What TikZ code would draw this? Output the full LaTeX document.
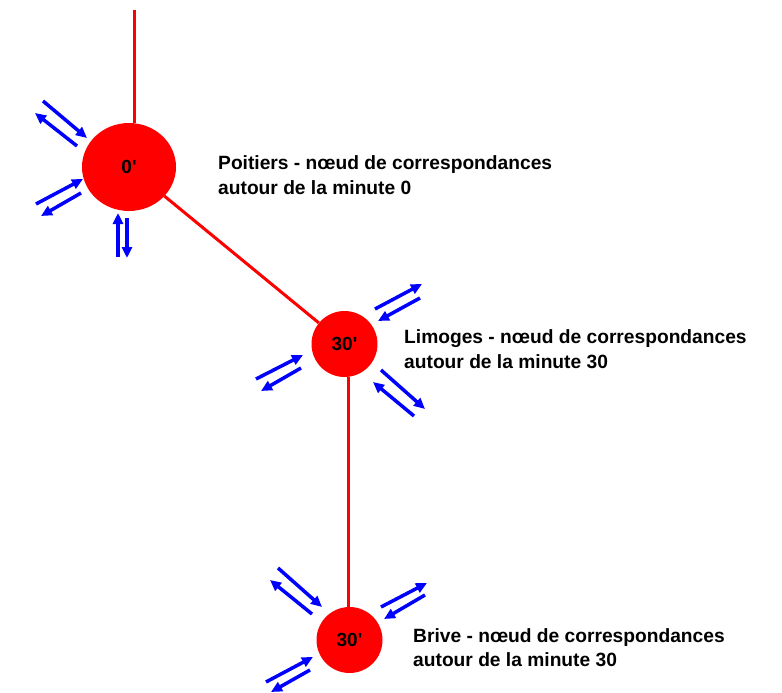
\documentclass[tikz,border=0pt]{standalone}
\usepackage{fontspec}
\setmainfont{Liberation Sans}
\usetikzlibrary{arrows.meta,shapes.geometric}
\begin{document}
\begin{tikzpicture}[x=1pt,y=-1pt,
  hub/.style={circle,fill=red,draw=none,minimum size=66pt,inner sep=0pt,font=\fontsize{19}{20}\selectfont\bfseries},
  link/.style={draw=red,line width=3pt},
  flow/.style={draw=blue,line width=3.5pt,-{Triangle[length=11pt,width=10pt]}},
  caption/.style={anchor=west,align=left,inner sep=0pt,font=\fontsize{19.2}{24.5}\selectfont\bfseries}]
\useasboundingbox (0,0) rectangle (782,693);
\node[hub,ellipse,minimum width=94pt,minimum height=88pt] (poitiers) at (129,167) {0\textquotesingle};
\node[hub] (limoges) at (344.5,344) {30\textquotesingle};
\node[hub] (brive) at (349.5,640) {30\textquotesingle};
\coordinate (top) at (134,10);
\draw[link] (top) -- (top |- poitiers.north);
\draw[link] (poitiers) -- (limoges);
\draw[link] (limoges.south -| 348,0) -- (brive.north -| 348,0);
\node[caption] (tp) at (218,175) {Poitiers - nœud de correspondances\\autour de la minute 0};
\node[caption] (tl) at (404,349) {Limoges - nœud de correspondances\\autour de la minute 30};
\node[caption] (tb) at (413,647.5) {Brive - nœud de correspondances\\autour de la minute 30};
% Poitiers
\draw[flow] (43,101) -- (87,138);
\draw[flow] (77,146) -- (35,113);
\draw[flow] (36,204) -- (83,179);
\draw[flow] (81,193) -- (41,216);
\draw[flow] (118,257) -- (118,213);
\draw[flow] (127,218) -- (127,258);
% Limoges
\draw[flow] (375,309) -- (422,284);
\draw[flow] (420,298) -- (378,321);
\draw[flow] (256,379) -- (303,355);
\draw[flow] (301,368) -- (261,391);
\draw[flow] (381,370) -- (425,409);
\draw[flow] (414,416) -- (373,382);
% Brive
\draw[flow] (278,568) -- (322,607);
\draw[flow] (312,614) -- (270,580);
\draw[flow] (381,607) -- (427,583);
\draw[flow] (425,595) -- (384,619);
\draw[flow] (266,682) -- (313,657);
\draw[flow] (310,670) -- (271,692);
\end{tikzpicture}
\end{document}
